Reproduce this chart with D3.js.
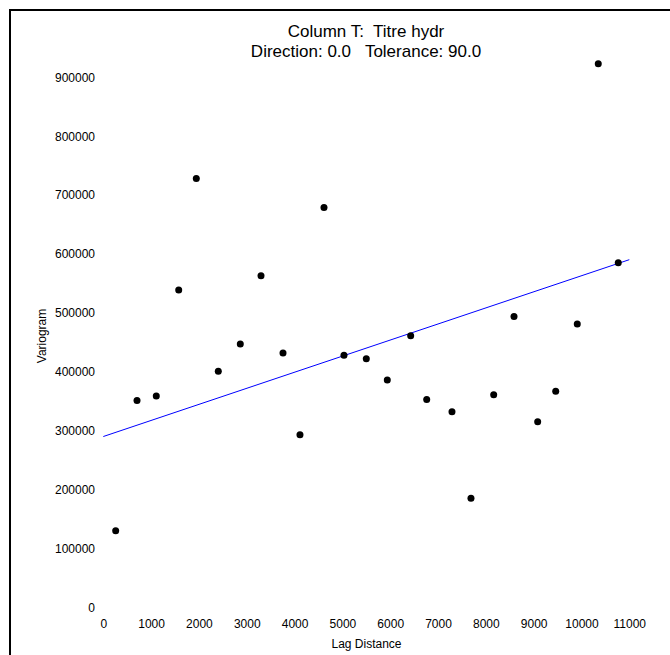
<!DOCTYPE html>
<html lang="en">
<head>
    <meta charset="UTF-8">
    <title>Variogram - Column T: Titre hydr</title>
    <script src="https://d3js.org/d3.v7.min.js"></script>
    <style>
        html, body { margin: 0; background: #fff; overflow: hidden; }
        svg { display: block; }
        text { font-family: "Liberation Sans", Arial, sans-serif; }
    </style>
</head>
<body>
    <script>
        // lag distance / variogram values
        var lagDistance = [259, 705, 1108, 1577, 1945, 2405, 2865, 3298, 3758, 4113,
                           4615, 5033, 5500, 5939, 6428, 6763, 7292, 7689, 8164, 8589,
                           9084, 9461, 9912, 10351, 10769];
        var variogram = [130000, 351000, 359000, 539000, 728000, 401000, 447000, 563000, 432000, 293000,
                         679000, 428000, 422000, 386000, 461000, 353000, 332000, 185000, 361000, 494000,
                         315000, 367000, 481000, 923000, 585000];

        // fitted linear model: intercept and slope
        var modelX = [0, 11000];
        var modelIntercept = 290000, modelSlope = 27.3;

        var xTicks = [0, 1000, 2000, 3000, 4000, 5000, 6000, 7000, 8000, 9000, 10000, 11000];
        var yTicks = [0, 100000, 200000, 300000, 400000, 500000, 600000, 700000, 800000, 900000];

        var width = 670, height = 655;

        var svg = d3.select("body").append("svg")
            .attr("width", width)
            .attr("height", height);

        // frame (only left and top edges fall inside the window)
        svg.append("rect")
            .attr("x", 10).attr("y", 10)
            .attr("width", 700).attr("height", 700)
            .attr("fill", "none")
            .attr("stroke", "#000")
            .attr("stroke-width", 2);

        var xScale = d3.scaleLinear().domain([0, 11000]).range([103.3, 629.3]);
        var yScale = d3.scaleLinear().domain([0, 900000]).range([607.3, 77.3]);

        // titles
        svg.append("text")
            .attr("x", 366).attr("y", 37)
            .attr("text-anchor", "middle")
            .attr("font-size", 17)
            .style("white-space", "pre")
            .text("Column T:  Titre hydr");
        svg.append("text")
            .attr("x", 366).attr("y", 57)
            .attr("text-anchor", "middle")
            .attr("font-size", 17)
            .style("white-space", "pre")
            .text("Direction: 0.0   Tolerance: 90.0");

        // axes, labels only
        var xAxis = d3.axisBottom(xScale).tickValues(xTicks).tickSize(0).tickPadding(0)
            .tickFormat(d3.format("d"));
        var yAxis = d3.axisLeft(yScale).tickValues(yTicks).tickSize(0).tickPadding(0)
            .tickFormat(d3.format("d"));

        var gx = svg.append("g").attr("transform", "translate(0,619)").call(xAxis);
        var gy = svg.append("g").attr("transform", "translate(95,0)").call(yAxis);
        [gx, gy].forEach(function(g) {
            g.select(".domain").remove();
            g.selectAll("text")
                .attr("font-family", "Liberation Sans, Arial, sans-serif")
                .attr("font-size", 12)
                .attr("fill", "#000");
        });

        svg.append("text")
            .attr("x", 366.5).attr("y", 647.5)
            .attr("text-anchor", "middle")
            .attr("font-size", 12)
            .text("Lag Distance");
        svg.append("text")
            .attr("transform", "translate(46,336) rotate(-90)")
            .attr("text-anchor", "middle")
            .attr("font-size", 12)
            .text("Variogram");

        // model line
        var line = d3.line()
            .x(function(d) { return xScale(d); })
            .y(function(d) { return yScale(modelIntercept + modelSlope * d); });
        svg.append("path")
            .datum(modelX)
            .attr("d", line)
            .attr("fill", "none")
            .attr("stroke", "#0000ff")
            .attr("stroke-width", 1);

        // experimental variogram points
        svg.selectAll("circle.pt").data(lagDistance).enter()
            .append("circle")
            .attr("class", "pt")
            .attr("cx", function(d) { return xScale(d); })
            .attr("cy", function(d, i) { return yScale(variogram[i]); })
            .attr("r", 3.5)
            .attr("fill", "#000");
    </script>
</body>
</html>
